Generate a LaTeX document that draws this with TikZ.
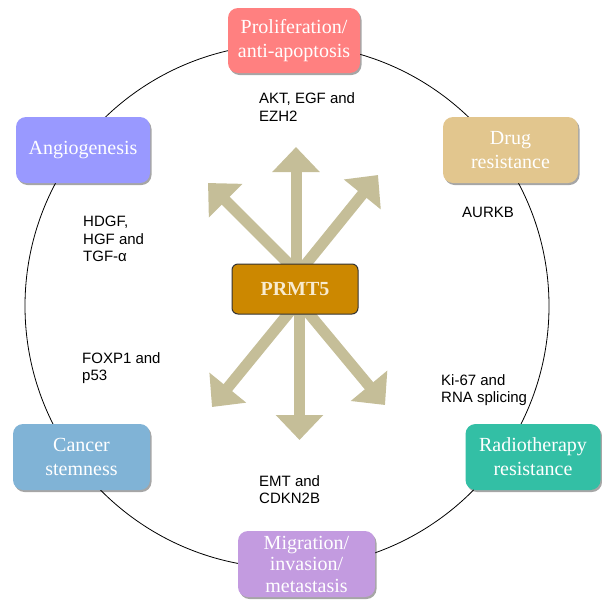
\documentclass[tikz,border=0pt]{standalone}
\usepackage{fontspec}
\setmainfont{Liberation Serif}
\newfontfamily\labelfont{Liberation Sans}
\usetikzlibrary{arrows.meta,shadows}
\pgfdeclarelayer{bg}
\pgfsetlayers{bg,main}
\definecolor{arrowc}{HTML}{C5BE98}
\definecolor{cprolif}{HTML}{FF8080}
\definecolor{cdrug}{HTML}{E2C68E}
\definecolor{cangio}{HTML}{9999FF}
\definecolor{cstem}{HTML}{80B3D6}
\definecolor{cradio}{HTML}{33BFA5}
\definecolor{cmigr}{HTML}{C39BE0}
\definecolor{cprmt}{HTML}{CC8800}
\definecolor{cprmttext}{HTML}{F8EBD0}
\begin{document}
\begin{tikzpicture}[x=1pt,y=-1pt,
  boxnode/.style={rounded corners=10pt, inner sep=0pt, align=center,
    text=white, font=\fontsize{20}{24}\selectfont,
    drop shadow={shadow xshift=1.5pt, shadow yshift=-2pt, opacity=0.35, fill=black}},
  lbl/.style={anchor=north west, inner sep=0pt, align=left,
    font=\labelfont\fontsize{15}{17.5}\selectfont},
  bigarrow/.style={draw=arrowc, line width=11pt, -{Triangle[width=46pt,length=25pt]}}]
\useasboundingbox (0,0) rectangle (602,600);
\draw[line width=0.8pt] (287,306) circle[radius=262pt];

\node[boxnode, fill=cprolif, minimum width=132pt, minimum height=65pt] (prolif) at (294,40.5) {Proliferation/\\anti-apoptosis};
\node[boxnode, fill=cdrug, minimum width=135pt, minimum height=66pt] (drug) at (510.5,150) {Drug\\resistance};
\node[boxnode, fill=cangio, minimum width=134pt, minimum height=66pt] (angio) at (83,150) {Angiogenesis};
\node[boxnode, fill=cstem, minimum width=137pt, minimum height=66pt] (stem) at (81.5,457) {Cancer\\stemness};
\node[boxnode, fill=cradio, minimum width=135pt, minimum height=66pt] (radio) at (533,457) {Radiotherapy\\resistance};
\node[boxnode, fill=cmigr, minimum width=137pt, minimum height=66pt, font=\fontsize{20}{21.5}\selectfont] (migr) at (306.5,564) {Migration/\\invasion/\\metastasis};

\node[rounded corners=6pt, fill=cprmt, draw=black!80, line width=1pt, minimum width=126pt, minimum height=50pt, inner sep=0pt, text=cprmttext, font=\bfseries\fontsize{20}{24}\selectfont] (prmt) at (295,289) {PRMT5};

\coordinate (tup) at (296,147);
\coordinate (tdown) at (299.5,440);
\coordinate (tul) at (208,183);
\coordinate (tur) at (378,175);
\coordinate (tll) at (212,407);
\coordinate (tlr) at (385,405);

\begin{pgfonlayer}{bg}
\draw[bigarrow] ([shift={(1,0)}]prmt.center) -- (tup);
\draw[bigarrow] ([shift={(4.5,0)}]prmt.center) -- (tdown);
\draw[bigarrow] ([shift={(3,-16)}]prmt.center) -- (tul);
\draw[bigarrow] ([shift={(-2,-9)}]prmt.center) -- (tur);
\draw[bigarrow] ([shift={(6,9)}]prmt.center) -- (tll);
\draw[bigarrow] ([shift={(1,9)}]prmt.center) -- (tlr);
\end{pgfonlayer}

\node[lbl] (l1) at (259,92.5) {AKT, EGF and\\EZH2};
\node[lbl] (l2) at (462,207.3) {AURKB};
\node[lbl] (l3) at (83,216) {HDGF,\\HGF and\\TGF-α};
\node[lbl] (l4) at (82,352.3) {FOXP1 and\\p53};
\node[lbl] (l5) at (441,374.3) {Ki-67 and\\RNA splicing};
\node[lbl] (l6) at (259,475.3) {EMT and\\CDKN2B};
\end{tikzpicture}
\end{document}
